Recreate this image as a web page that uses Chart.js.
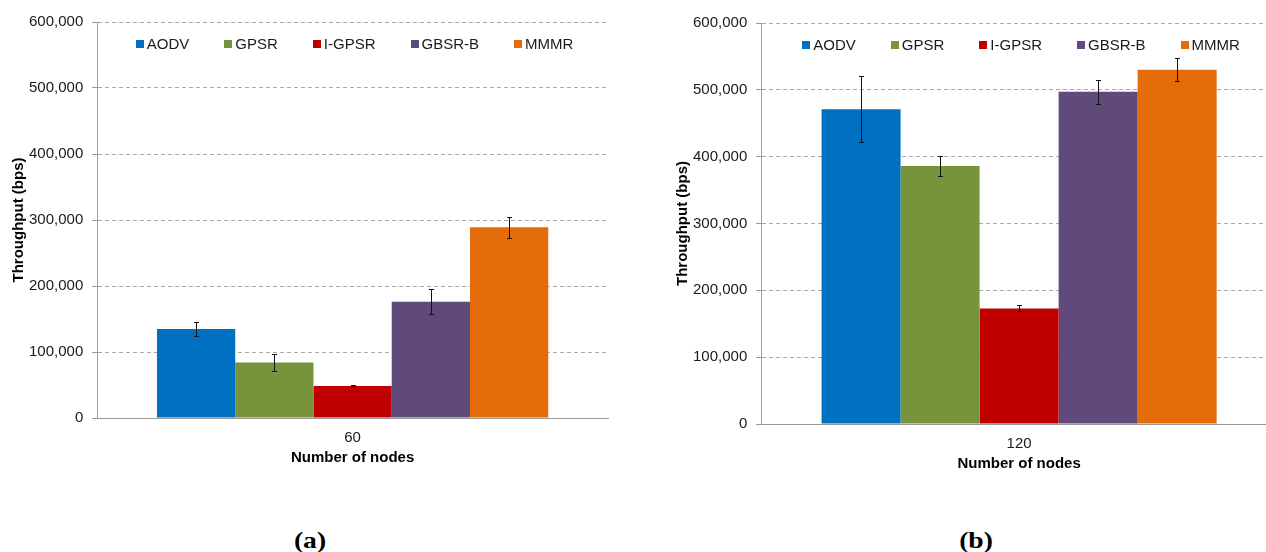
<!DOCTYPE html>
<html>
<head>
<meta charset="utf-8">
<script src="https://cdn.jsdelivr.net/npm/chart.js@4.4.0/dist/chart.umd.min.js"></script>
<style>
  html, body { margin: 0; padding: 0; background: #fff; }
  body { width: 1266px; height: 552px; overflow: hidden; position: relative; }
  .panel { position: absolute; top: 0; }
  #panelA { left: 0; width: 650px; height: 470px; }
  #panelB { left: 664px; width: 623px; height: 476px; }
  .caption {
    position: absolute; top: 527px; width: 80px; text-align: center;
    font: bold 24px "Liberation Serif", "Times New Roman", serif; color: #000;
    transform: scaleX(1.15);
  }
</style>
</head>
<body>
<div class="panel" id="panelA"><canvas id="chartA"></canvas></div>
<div class="panel" id="panelB"><canvas id="chartB"></canvas></div>
<div class="caption" style="left:270px">(a)</div>
<div class="caption" style="left:936px">(b)</div>
<script>
// Protocols compared in both panels
const seriesNames = ['AODV', 'GPSR', 'I-GPSR', 'GBSR-B', 'MMMR'];
const seriesColors = ['#0070C0', '#77933C', '#C00000', '#604A7B', '#E46C0A'];

// Panel (a): 60 nodes
const categoriesA = ['60'];
const throughput60 = [135000, 84000, 48500, 176000, 289000];
const error60 = [11000, 13000, 1500, 19000, 16000];

// Panel (b): 120 nodes
const categoriesB = ['120'];
const throughput120 = [471000, 386000, 173000, 497000, 530000];
const error120 = [49500, 14500, 4500, 17500, 17500];

const yTickLabels = ['0', '100,000', '200,000', '300,000', '400,000', '500,000', '600,000'];

const FONT = '"Liberation Sans", Arial, sans-serif';

// Symmetric error bars drawn through the y scale
const errorBars = {
  id: 'errorBars',
  afterDatasetsDraw(chart) {
    const ctx = chart.ctx;
    const y = chart.scales.y;
    ctx.save();
    ctx.strokeStyle = '#111';
    ctx.lineWidth = 1;
    chart.data.datasets.forEach((ds, i) => {
      const meta = chart.getDatasetMeta(i);
      meta.data.forEach((bar, j) => {
        const v = ds.data[j], e = ds.errors[j];
        const x = Math.round(bar.x) + 0.5;
        const y1 = Math.round(y.getPixelForValue(v + e)) + 0.5;
        const y2 = Math.round(y.getPixelForValue(v - e)) + 0.5;
        ctx.beginPath();
        ctx.moveTo(x, y1); ctx.lineTo(x, y2);
        ctx.moveTo(x - 2.5, y1); ctx.lineTo(x + 2.5, y1);
        ctx.moveTo(x - 2.5, y2); ctx.lineTo(x + 2.5, y2);
        ctx.stroke();
      });
    });
    ctx.restore();
  }
};

// Single-row legend placed inside the top of the plot area
const innerLegend = {
  id: 'innerLegend',
  afterDatasetsDraw(chart) {
    const ctx = chart.ctx;
    const area = chart.chartArea;
    const box = 8, boxGap = 3, itemGap = 35;
    ctx.save();
    ctx.font = '15px ' + FONT;
    const items = chart.data.datasets.map(ds => ({
      label: ds.label, color: ds.backgroundColor,
      w: box + boxGap + ctx.measureText(ds.label).width
    }));
    const total = items.reduce((s, it) => s + it.w, 0) + itemGap * (items.length - 1);
    let x = (area.left + area.right) / 2 - total / 2 + 2;
    const cy = area.top + 21.5;
    ctx.textBaseline = 'middle';
    ctx.textAlign = 'left';
    items.forEach(it => {
      ctx.fillStyle = it.color;
      ctx.fillRect(Math.round(x), Math.round(cy - box / 2), box, box);
      ctx.fillStyle = '#1a1a1a';
      ctx.fillText(it.label, x + box + boxGap, cy + 1);
      x += it.w + itemGap;
    });
    ctx.restore();
  }
};

function makeChart(id, categories, values, errors, pad) {
  const datasets = seriesNames.map((name, i) => ({
    label: name,
    data: [values[i]],
    errors: [errors[i]],
    backgroundColor: seriesColors[i],
    borderWidth: 0,
    categoryPercentage: 0.766,
    barPercentage: 1.0
  }));
  return new Chart(document.getElementById(id), {
    type: 'bar',
    data: { labels: categories, datasets },
    plugins: [errorBars, innerLegend],
    options: {
      responsive: true,
      maintainAspectRatio: false,
      animation: false,
      layout: { padding: pad },
      plugins: { legend: { display: false }, tooltip: { enabled: false } },
      scales: {
        x: {
          grid: { display: false, tickLength: 0 },
          border: { display: true, color: '#999', width: 1 },
          ticks: { color: '#1a1a1a', font: { family: FONT, size: 15 }, padding: 11 },
          title: {
            display: true, text: 'Number of nodes', color: '#000',
            font: { family: FONT, size: 15, weight: 'bold' },
            padding: { top: -9, bottom: 0 }
          }
        },
        y: {
          min: 0, max: 600000,
          ticks: {
            stepSize: 100000, color: '#1a1a1a', padding: 9,
            font: { family: FONT, size: 15 },
            callback: (v, i) => yTickLabels[i]
          },
          grid: {
            color: '#a8a8a8', lineWidth: 1, tickLength: 5,
            tickColor: '#999', tickBorderDash: []
          },
          border: { display: true, color: '#a0a0a0', width: 1, dash: [4, 3] },
          title: {
            display: true, text: 'Throughput (bps)', color: '#000',
            font: { family: FONT, size: 15, weight: 'bold' },
            padding: { top: 4, bottom: -8 }
          }
        }
      }
    }
  });
}

makeChart('chartA', categoriesA, throughput60, error60, { left: 6, top: 22, right: 42, bottom: 3 });
makeChart('chartB', categoriesB, throughput120, error120, { left: 6, top: 23, right: 10, bottom: 3 });
</script>
</body>
</html>
